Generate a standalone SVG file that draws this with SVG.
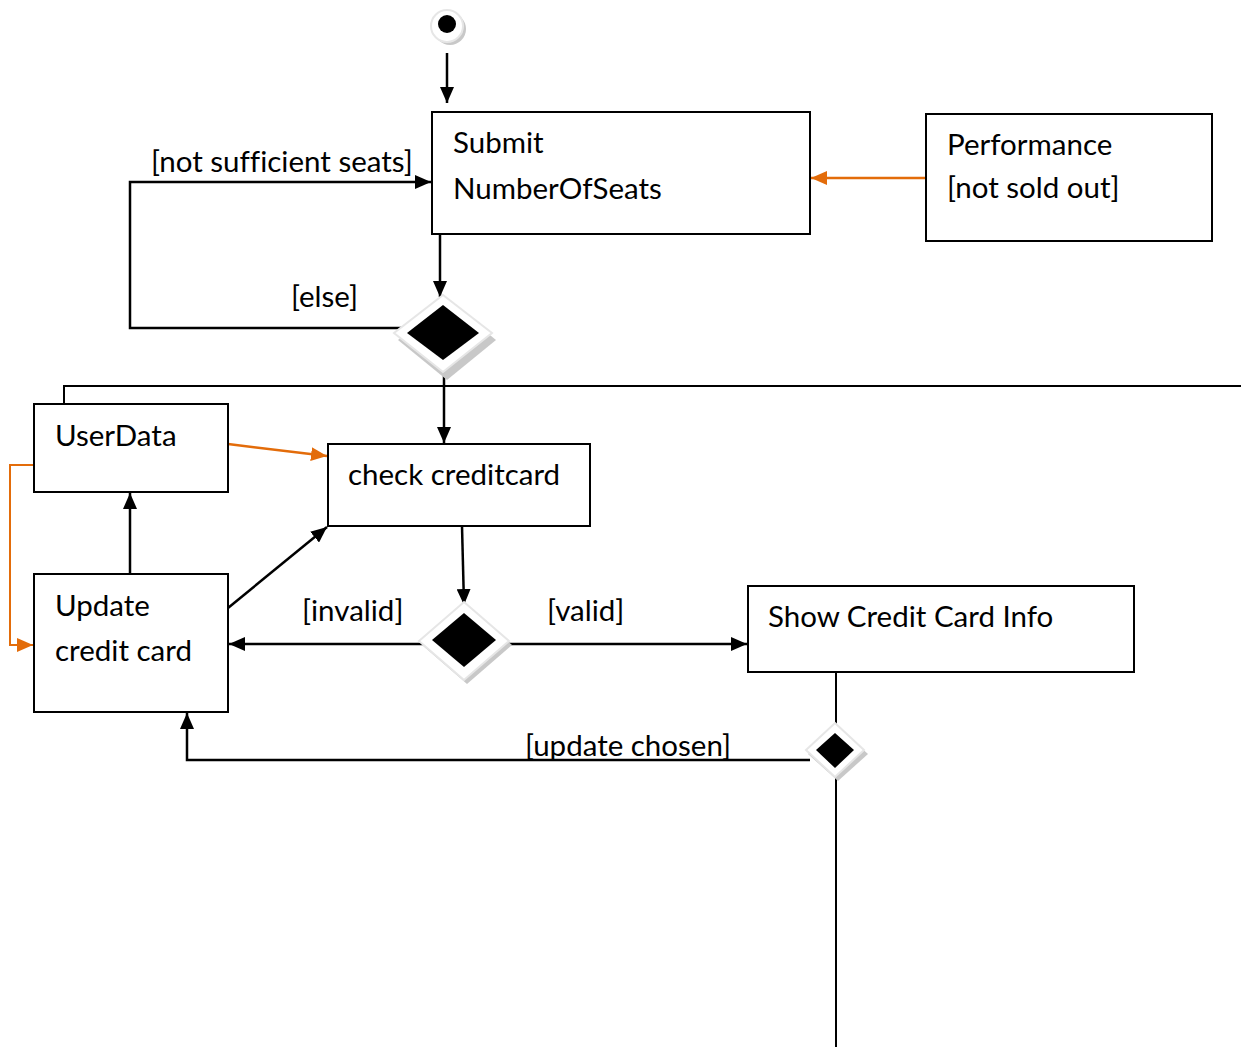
<svg xmlns="http://www.w3.org/2000/svg" width="1241" height="1047" viewBox="0 0 1241 1047">
<defs>
<style>
.box{fill:#fff;stroke:#000;stroke-width:2}
.t{font-family:Lato,"Open Sans","Liberation Sans",sans-serif;font-size:29.5px;fill:#000;font-variant-ligatures:none}
.c{fill:none;stroke:#000;stroke-width:2.5}
.o{fill:none;stroke:#E36C0A;stroke-width:2.5}
</style>
<marker id="ab" viewBox="0 0 16 14" refX="16" refY="7" markerWidth="16" markerHeight="14" markerUnits="userSpaceOnUse" orient="auto"><path d="M0,0 L16,7 L0,14 z" fill="#000"/></marker>
<marker id="ao" viewBox="0 0 16 14" refX="16" refY="7" markerWidth="16" markerHeight="14" markerUnits="userSpaceOnUse" orient="auto"><path d="M0,0 L16,7 L0,14 z" fill="#E36C0A"/></marker>
</defs>
<rect width="1241" height="1047" fill="#fff"/>

<g id="connectors">
<path class="c" d="M447,53 V103" marker-end="url(#ab)"/>
<path class="c" d="M440,234 V297" marker-end="url(#ab)"/>
<path class="c" d="M405,328 H130 V182 H431" marker-end="url(#ab)"/>
<path class="o" d="M926,178 H811" marker-end="url(#ao)"/>
<path class="c" d="M444,360 V443" marker-end="url(#ab)"/>
<path class="c" d="M64,404 V386 H1241" style="stroke-width:2"/>
<path class="o" d="M228,444 L327,456" marker-end="url(#ao)"/>
<path class="o" d="M34,465 H10 V645 H33" marker-end="url(#ao)" style="stroke-width:2"/>
<path class="c" d="M130,574 V493" marker-end="url(#ab)"/>
<path class="c" d="M228,608 L327,527" marker-end="url(#ab)"/>
<path class="c" d="M462,526 L464,605" marker-end="url(#ab)"/>
<path class="c" d="M426,644 H229" marker-end="url(#ab)"/>
<path class="c" d="M502,644 H747" marker-end="url(#ab)"/>
<path class="c" d="M836,672 V1047" style="stroke-width:2"/>
<path class="c" d="M810,760 H187 V713" marker-end="url(#ab)"/>
<text class="t" x="151" y="172">[not sufficient seats]</text>
<text class="t" x="291" y="307">[else]</text>
<text class="t" x="302" y="621">[invalid]</text>
<text class="t" x="547" y="621">[valid]</text>
<text class="t" x="525" y="756">[update chosen]</text>
</g>

<g id="start">
<circle cx="450" cy="29" r="16" fill="#c8c8c8"/>
<circle cx="447" cy="26" r="16" fill="#fff" stroke="#e6e6e6" stroke-width="2"/>
<circle cx="447" cy="24" r="9" fill="#000"/>
</g>

<g id="submit">
<rect class="box" x="432" y="112" width="378" height="122"/>
<text class="t" x="453" y="153">Submit</text>
<text class="t" x="453" y="199">NumberOfSeats</text>
</g>

<g id="performance">
<rect class="box" x="926" y="114" width="286" height="127"/>
<text class="t" x="947" y="155">Performance</text>
<text class="t" x="947" y="198">[not sold out]</text>
</g>

<g id="decision1">
<path d="M447,300 L496,340 L447,380 L398,340 z" fill="#c8c8c8"/>
<path d="M443,295 L492,333 L443,372 L394,333 z" fill="#fff" stroke="#e6e6e6" stroke-width="2"/>
<path d="M443,305 L479,333 L443,360 L407,333 z" fill="#000"/>
</g>

<g id="userdata">
<rect class="box" x="34" y="404" width="194" height="88"/>
<text class="t" x="55" y="446">UserData</text>
</g>

<g id="checkcc">
<rect class="box" x="328" y="444" width="262" height="82"/>
<text class="t" x="348" y="485">check creditcard</text>
</g>

<g id="updatecc">
<rect class="box" x="34" y="574" width="194" height="138"/>
<text class="t" x="55" y="616">Update</text>
<text class="t" x="55" y="661">credit card</text>
</g>

<g id="decision2">
<path d="M467,606 L512,645 L467,684 L422,645 z" fill="#c8c8c8"/>
<path d="M464,602 L509,641 L464,680 L419,641 z" fill="#fff" stroke="#e6e6e6" stroke-width="2"/>
<path d="M464,613 L496,640 L464,667 L432,640 z" fill="#000"/>
</g>

<g id="showcc">
<rect class="box" x="748" y="586" width="386" height="86"/>
<text class="t" x="768" y="627">Show Credit Card Info</text>
</g>

<g id="decision3">
<path d="M838,727 L868,754 L838,781 L808,754 z" fill="#c8c8c8"/>
<path d="M835,723 L864,750 L835,777 L806,750 z" fill="#fff" stroke="#e6e6e6" stroke-width="2"/>
<path d="M835,733 L854,750 L835,768 L816,750 z" fill="#000"/>
</g>
</svg>
